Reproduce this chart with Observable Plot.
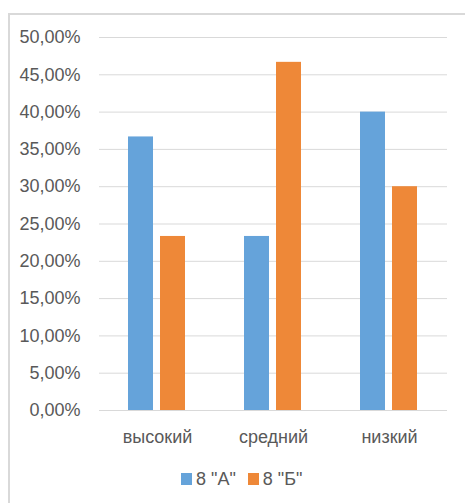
<!DOCTYPE html>
<html>
<head>
<meta charset="utf-8">
<script src="https://cdn.jsdelivr.net/npm/d3@7"></script>
<script src="https://cdn.jsdelivr.net/npm/@observablehq/plot@0.6"></script>
<style>
  html, body { margin: 0; padding: 0; background: #ffffff; }
  #wrap { position: relative; width: 465px; height: 503px; overflow: hidden; font-family: "Liberation Sans", Arial, sans-serif; }
  #frame { position: absolute; z-index: 2; left: 8px; top: 13px; right: -4px; bottom: -4px; border-left: 2px solid #d9d9d9; border-top: 2px solid #d9d9d9; pointer-events: none; }
  #chart { position: absolute; z-index: 1; left: 0; top: 0; }
  #legend { position: absolute; z-index: 1; left: 181px; top: 469px; display: flex; align-items: center; font-size: 18px; color: #595959; line-height: 20px; }
  #legend .item { display: flex; align-items: center; margin-right: 12px; }
  #legend .sw { width: 11px; height: 12px; margin-right: 4px; }
</style>
</head>
<body>
<div id="wrap">
  <div id="chart"></div>
  <div id="legend"></div>
  <div id="frame"></div>
</div>
<script>
// Levels and class series (percent of students)
const categories = ["высокий", "средний", "низкий"];
const seriesNames = ["8 \"А\"", "8 \"Б\""];
const valuesA = [36.67, 23.33, 40.0];
const valuesB = [23.33, 46.67, 30.0];
const seriesColors = ["#65a3da", "#ee8838"];
const yTicks = [0, 5, 10, 15, 20, 25, 30, 35, 40, 45, 50];

const rows = categories.flatMap((c, i) => [
  {level: c, series: seriesNames[0], value: valuesA[i]},
  {level: c, series: seriesNames[1], value: valuesB[i]}
]);

const pct = d => d.toFixed(2).replace(".", ",") + "%";
const textColor = "#595959";

const chart = Plot.plot({
  width: 465,
  height: 455,
  marginLeft: 99,
  marginRight: 18,
  marginTop: 37,
  marginBottom: 45,
  style: {fontFamily: "'Liberation Sans', Arial, sans-serif", background: "transparent"},
  fx: {domain: categories, padding: 0},
  x: {domain: seriesNames, paddingInner: 0.215, paddingOuter: 0.892},
  y: {domain: [0, 50]},
  color: {domain: seriesNames, range: seriesColors},
  marks: [
    Plot.ruleY(yTicks, {stroke: "#d9d9d9", strokeWidth: 1}),
    Plot.barY(rows, {fx: "level", x: "series", y: "value", fill: "series"}),
    Plot.axisY({ticks: yTicks, tickFormat: pct, tickSize: 0, tickPadding: 19, fontSize: 18, fill: textColor, label: null}),
    Plot.axisFx({anchor: "bottom", tickSize: 0, tickPadding: 20, fontSize: 18, fill: textColor, label: null}),
    Plot.axisX({ticks: [], label: null, tickSize: 0})
  ]
});
document.getElementById("chart").appendChild(chart);

const legend = document.getElementById("legend");
seriesNames.forEach((name, i) => {
  const item = document.createElement("div");
  item.className = "item";
  const sw = document.createElement("div");
  sw.className = "sw";
  sw.style.background = seriesColors[i];
  const label = document.createElement("span");
  label.textContent = name;
  item.appendChild(sw);
  item.appendChild(label);
  legend.appendChild(item);
});
</script>
</body>
</html>
